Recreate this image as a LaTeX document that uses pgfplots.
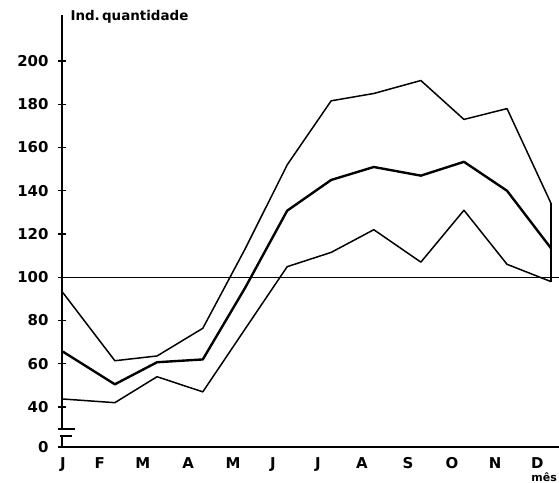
\documentclass[border=0pt]{standalone}
\usepackage{fontspec}
\setmainfont{DejaVu Sans}
\usepackage{pgfplots}
\pgfplotsset{compat=1.18}

\begin{document}
\begin{tikzpicture}
\begin{axis}[
  name=ax, at={(0,0)}, anchor=south west,
  scale only axis, width=497bp, height=432bp,
  xmin=-0.02, xmax=11.17, ymin=21.5, ymax=221.3,
  axis x line=bottom, axis y line=left,
  axis line style={-, line width=1.4pt},
  xtick={0,0.83,1.80,2.82,3.83,4.73,5.74,6.73,7.77,8.76,9.73,10.68},
  xticklabels={J,F,M,A,M,J,J,A,S,O,N,D},
  ytick={21.5,40,60,80,100,120,140,160,180,200},
  yticklabels={0,40,60,80,100,120,140,160,180,200},
  /pgf/number format/assume math mode=true,
  tick align=center, major tick length=8bp,
  y tick style={line width=1.2pt, black},
  x tick style={draw=none},
  xticklabel style={font=\bfseries\fontsize{15}{15}\selectfont, inner sep=0pt, yshift=-6bp},
  yticklabel style={font=\bfseries\fontsize{15}{15}\selectfont, xshift=-6bp},
  clip=false,
  every axis plot/.append style={no markers, line join=round},
]
% linha de referencia 100
\addplot[black, line width=1.4pt] coordinates {(-0.02,100) (11.17,100)};
% serie superior
\addplot[black, line width=1.5pt] coordinates {(0,92.9) (1.17,61.4) (2.12,63.6) (3.15,76.4) (4.1,113) (5.05,152)
  (6.04,181.6) (7.0,185) (8.06,191) (9.03,173) (10.0,178) (10.99,134.2)};
% serie media (mais grossa)
\addplot[black, line width=2.4pt] coordinates {(0,65.6) (1.17,50.5) (2.12,60.7) (3.15,62) (4.1,95) (5.05,130.8)
  (6.04,145) (7.0,151) (8.06,147) (9.03,153.4) (10.0,140) (10.99,113.4)};
% serie inferior
\addplot[black, line width=1.5pt] coordinates {(0,43.7) (1.17,42) (2.12,54) (3.15,47) (4.1,76) (5.05,104.9)
  (6.04,111.5) (7.0,122) (8.06,107) (9.03,131) (10.0,106) (10.99,98)};
% traco vertical em dezembro
\addplot[black, line width=1.5pt] coordinates {(10.99,134.2) (10.99,98)};
% quebra do eixo
\fill[white] (axis cs:-0.05,26.8) rectangle (axis cs:0.05,29.6);
\draw[line width=1.2pt] (axis cs:-0.1,29.8) -- (axis cs:0.27,29.8);
\draw[line width=1.2pt] (axis cs:-0.07,26.6) -- (axis cs:0.2,26.6);
\end{axis}
\node[anchor=base west, font=\bfseries\fontsize{13.5}{13.5}\selectfont] at (5bp,426bp) {Ind.\,quantidade};
\node[anchor=base east, inner sep=0pt, font=\bfseries\fontsize{11}{11}\selectfont] at (495bp,-34bp) {mês};
\pgfresetboundingbox
\path[use as bounding box] (-62bp,-36bp) rectangle (497bp,447bp);
\end{tikzpicture}
\end{document}
